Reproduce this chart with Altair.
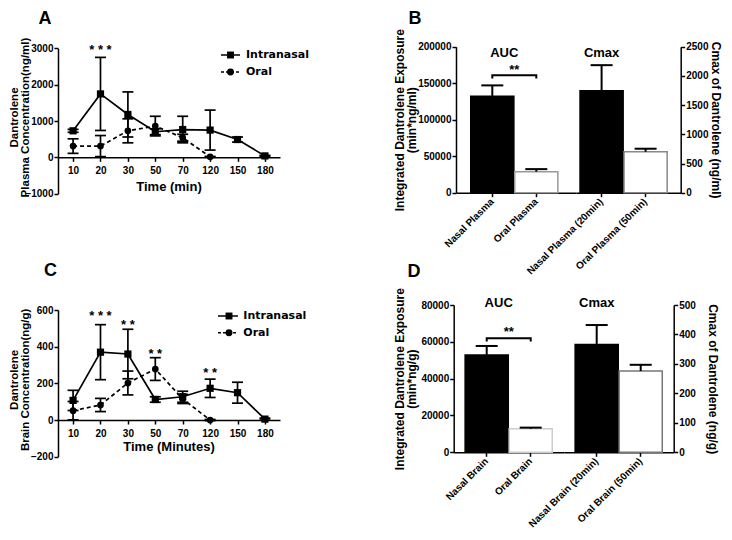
import altair as alt
import pandas as pd

FONT = "Liberation Sans"
W, H = 716, 524

# ---------------- data ----------------
times = ["10", "20", "30", "50", "70", "120", "150", "180"]
oral_times = ["10", "20", "30", "50", "70", "120"]
series = ["Intranasal", "Oral"]

# Panel A: plasma concentration (ng/ml)
a_nasal_mean = [730, 1745, 1180, 705, 765, 750, 490, 40]
a_nasal_err = [40, 1005, 620, 80, 365, 550, 70, 15]
a_oral_mean = [310, 310, 730, 860, 540, 15]
a_oral_err = [200, 290, 330, 270, 95, 10]
a_star_times = ["20"]
a_star_text = ["* * *"]
a_star_y = [3070]

# Panel C: brain concentration (ng/g)
c_nasal_mean = [107, 370, 360, 112, 127, 173, 149, 5]
c_nasal_err = [55, 150, 135, 15, 30, 50, 57, 5]
c_oral_mean = [51, 82, 202, 278, 115, 0]
c_oral_err = [50, 36, 65, 62, 25, 3]
c_star_times = ["20", "30", "50", "120"]
c_star_text = ["* * *", "* *", "* *", "* *"]
c_star_y = [591, 538, 382, 278]

# Panel B: plasma AUC / Cmax
b_auc_labels = ["Nasal Plasma", "Oral Plasma"]
b_auc_mean = [132000, 28800]
b_auc_err = [15000, 3500]
b_cmax_labels = ["Nasal Plasma (20min)", "Oral Plasma (50min)"]
b_cmax_mean = [1747, 702]
b_cmax_err = [437, 51]
b_sig = [156500, 161000, 173500]  # bracket foot, bracket top, "**"

# Panel D: brain AUC / Cmax
d_auc_labels = ["Nasal Brain", "Oral Brain"]
d_auc_mean = [52850, 12800]
d_auc_err = [4900, 600]
d_cmax_labels = ["Nasal Brain (20min)", "Oral Brain (50min)"]
d_cmax_mean = [366, 276]
d_cmax_err = [66, 21]
d_sig = [60200, 62000, 67700]


def frame(keys, mean, err, lower=True):
    df = pd.DataFrame({"k": keys, "mean": mean, "err": err})
    df["hi"] = df["mean"] + df["err"]
    df["lo"] = (df["mean"] - df["err"]) if lower else df["mean"]
    return df


def legend_layers(rows, line_x, marker_x, text_x):
    ls = alt.Scale(type="point", domain=series, range=rows, padding=0)
    ldf = pd.DataFrame({"s": series})
    is_oral = "datum.s == 'Oral'"
    base = alt.Chart(ldf)
    line = base.mark_rule(strokeWidth=1.6, color="black").encode(
        x=alt.value(line_x[0]), x2=alt.value(line_x[1]),
        y=alt.Y("s:N", scale=ls, axis=None),
        strokeDash=alt.condition(is_oral, alt.value([3, 2]), alt.value([1, 0])))
    pts = base.mark_point(filled=True, size=48, color="black", opacity=1).encode(
        x=alt.value(marker_x), y=alt.Y("s:N", scale=ls, axis=None),
        shape=alt.condition(is_oral, alt.value("circle"), alt.value("square")))
    txt = base.mark_text(align="left", baseline="middle", font="DejaVu Sans",
                         fontWeight="bold", fontSize=11).encode(
        x=alt.value(text_x), y=alt.Y("s:N", scale=ls, axis=None), text="s:N")
    return [line, pts, txt]


def time_panel(nm, ne, om, oe, st, stx, sty, ydom, yticks, yrange, ytitle,
               xtitle, xtitle_base, legend):
    xs = alt.Scale(type="point", domain=times, range=[50, 272], padding=0.55)
    ys = alt.Scale(type="linear", domain=ydom, range=yrange, nice=False, zero=False)
    zero_px = yrange[0] + (0 - ydom[0]) / (ydom[1] - ydom[0]) * (yrange[1] - yrange[0])
    xaxis = alt.Axis(orient="bottom", offset=zero_px - H, title=xtitle, titleX=160.5,
                     titleY=xtitle_base - zero_px, titleAlign="center",
                     titleBaseline="alphabetic", titleFontSize=13, labelAngle=0,
                     tickSize=4, labelPadding=4, labelFontSize=10)
    yaxis = alt.Axis(orient="left", offset=-50, values=yticks, format="d", title=ytitle,
                     titleX=-41, titleY=(yrange[0] + yrange[1]) / 2 - 4, titleAngle=270,
                     titleAlign="center", titleBaseline="alphabetic", titleFontSize=11.5,
                     titleLineHeight=11, tickSize=4, labelPadding=1, labelFontSize=10)
    dn = frame(times, nm, ne)
    do = frame(oral_times, om, oe)
    sdf = pd.DataFrame({"k": st, "t": stx, "y": sty})

    def X(axis=None):
        return alt.X("k:O", scale=xs, axis=axis)

    def Y(f, axis=None):
        return alt.Y(f, scale=ys, axis=axis)

    layers = [
        alt.Chart(dn).mark_line(color="black", strokeWidth=1.7).encode(
            x=X(xaxis), y=Y("mean:Q", yaxis)),
        alt.Chart(do).mark_line(color="black", strokeWidth=1.7, strokeDash=[4, 3]).encode(
            x=X(), y=Y("mean:Q")),
    ]
    for d in (dn, do):
        layers += [
            alt.Chart(d).mark_rule(color="black", strokeWidth=1.7).encode(
                x=X(), y=Y("lo:Q"), y2="hi:Q"),
            alt.Chart(d).mark_tick(orient="horizontal", size=11, thickness=1.7,
                                   color="black", opacity=1).encode(x=X(), y=Y("hi:Q")),
            alt.Chart(d).mark_tick(orient="horizontal", size=11, thickness=1.7,
                                   color="black", opacity=1).encode(x=X(), y=Y("lo:Q")),
        ]
    layers += [
        alt.Chart(dn).mark_point(shape="square", filled=True, size=52, color="black",
                                 opacity=1).encode(x=X(), y=Y("mean:Q")),
        alt.Chart(do).mark_point(shape="circle", filled=True, size=45, color="black",
                                 opacity=1).encode(x=X(), y=Y("mean:Q")),
        alt.Chart(sdf).mark_text(fontSize=13, baseline="middle", dy=4).encode(
            x=X(), y=Y("y:Q"), text="t:N"),
    ]
    layers += legend_layers(*legend)
    return layers


def band_scale(domain, rng, first_center, step=44.0, pi=0.02):
    L = rng[1] - rng[0]
    n = len(domain)
    po = (L / step - (n - pi)) / 2
    start = first_center - step * (1 - pi) / 2
    align = (start - rng[0]) / (L - step * (n - pi))
    return alt.Scale(type="band", domain=domain, range=rng, paddingInner=pi,
                     paddingOuter=po, align=align)


def bar_group(labels, mean, err, xs, ys, xaxis, yaxis, oral_stroke):
    d = frame(labels, mean, err, lower=False)
    nasal = "indexof(datum.k, 'Nasal') == 0"
    X = alt.X("k:N", scale=xs, axis=xaxis)
    Xn = alt.X("k:N", scale=xs, axis=None)
    return d, [
        alt.Chart(d).mark_bar(strokeWidth=1.5).encode(
            x=X, y=alt.Y("mean:Q", scale=ys, axis=yaxis),
            fill=alt.condition(nasal, alt.value("black"), alt.value("white")),
            stroke=alt.condition(nasal, alt.value("black"), alt.value(oral_stroke))),
        alt.Chart(d).mark_rule(color="black", strokeWidth=2).encode(
            x=Xn, y=alt.Y("mean:Q", scale=ys, axis=None), y2="hi:Q"),
        alt.Chart(d).mark_tick(orient="horizontal", size=22, thickness=2, color="black",
                               opacity=1).encode(
            x=Xn, y=alt.Y("hi:Q", scale=ys, axis=None)),
    ]


def bar_panel(g):
    y0, ytop = g["y0"], g["ytop"]
    ys_l = alt.Scale(type="linear", domain=g["ldom"], range=[y0, ytop], nice=False, zero=False)
    ys_r = alt.Scale(type="linear", domain=g["rdom"], range=[y0, ytop], nice=False, zero=False)
    mid = g["mid"]
    xs_a = band_scale(g["auc_labels"], [g["left"], mid], g["c0"])
    xs_c = band_scale(g["cmax_labels"], [mid, g["right"]], g["c2"])
    common_x = dict(orient="bottom", offset=y0 - H, title=None, labelAngle=315,
                    labelAlign="right", labelBaseline="middle", labelFontSize=10,
                    labelPadding=3, tickSize=4, labelOverlap=False)
    xa_axis = alt.Axis(**common_x)
    xc_axis = alt.Axis(**common_x)
    yl_axis = alt.Axis(orient="left", offset=-g["left"], values=g["lticks"], format="d",
                       title=g["ltitle"], titleX=g["ltx"], titleY=(y0 + ytop) / 2,
                       titleAngle=270, titleAlign="center", titleBaseline="alphabetic",
                       titleFontSize=12, titleLineHeight=12, tickSize=4, labelPadding=1,
                       labelFontSize=10)
    yr_axis = alt.Axis(orient="right", offset=g["right"] - W, values=g["rticks"], format="d",
                       title=g["rtitle"], titleX=g["rtx"], titleY=(y0 + ytop) / 2,
                       titleAngle=90, titleAlign="center", titleBaseline="alphabetic",
                       titleFontSize=12, tickSize=4, labelPadding=1, labelFontSize=10)
    _, la = bar_group(g["auc_labels"], g["auc_mean"], g["auc_err"], xs_a, ys_l,
                      xa_axis, yl_axis, g["stroke_a"])
    _, lc = bar_group(g["cmax_labels"], g["cmax_mean"], g["cmax_err"], xs_c, ys_r,
                      xc_axis, yr_axis, g["stroke_c"])
    sig = g["sig"]
    n0, n1 = g["auc_labels"]
    br = pd.DataFrame({"k": [n0, n0, n1, n1], "v": [sig[0], sig[1], sig[1], sig[0]],
                       "o": [0, 1, 2, 3]})
    Xa = alt.X("k:N", scale=xs_a, axis=None)
    Xc = alt.X("k:N", scale=xs_c, axis=None)
    layers = la + lc + [
        alt.Chart(br).mark_line(color="black", strokeWidth=2).encode(
            x=Xa, y=alt.Y("v:Q", scale=ys_l, axis=None), order="o:Q"),
        alt.Chart(pd.DataFrame({"k": [n0], "v": [sig[2]], "t": ["**"]})).mark_text(
            fontSize=13, baseline="middle", dx=22, dy=4).encode(
            x=Xa, y=alt.Y("v:Q", scale=ys_l, axis=None), text="t:N"),
        alt.Chart(pd.DataFrame({"k": [n0], "v": [g["auc_ty"]], "t": ["AUC"]})).mark_text(
            fontSize=13, baseline="middle", dx=12).encode(
            x=Xa, y=alt.Y("v:Q", scale=ys_l, axis=None), text="t:N"),
        alt.Chart(pd.DataFrame({"k": [g["cmax_labels"][0]], "v": [g["cmax_ty"]],
                                "t": ["Cmax"]})).mark_text(
            fontSize=13, baseline="middle").encode(
            x=Xc, y=alt.Y("v:Q", scale=ys_r, axis=None), text="t:N"),
    ]
    return layers


def letter(ch, x, y):
    return alt.Chart(pd.DataFrame({"t": [ch]})).mark_text(
        fontSize=18, baseline="top", align="center").encode(
        x=alt.value(x), y=alt.value(y), text="t:N")


layers = []
layers += time_panel(a_nasal_mean, a_nasal_err, a_oral_mean, a_oral_err,
                     a_star_times, a_star_text, a_star_y,
                     [-1000, 3000], [-1000, 0, 1000, 2000, 3000], [185.7, 40.3],
                     ["Dantrolene", "Plasma Concentration(ng/ml)"], "Time (min)", 182,
                     ([47, 64], (213, 232), 222.5, 238))
layers += time_panel(c_nasal_mean, c_nasal_err, c_oral_mean, c_oral_err,
                     c_star_times, c_star_text, c_star_y,
                     [-200, 600], [-200, 0, 200, 400, 600], [448.7, 302],
                     ["Dantrolene", "Brain Concentration(ng/g)"], "Time (Minutes)", 442,
                     ([308, 324.7], (210, 230), 221, 235.3))
layers += bar_panel(dict(
    y0=184.7, ytop=38.7, ldom=[0, 200000], rdom=[0, 2500],
    lticks=[0, 50000, 100000, 150000, 200000], rticks=[0, 500, 1000, 1500, 2000, 2500],
    left=448, right=672.7, mid=568, c0=484.3, c2=593.6,
    auc_labels=b_auc_labels, auc_mean=b_auc_mean, auc_err=b_auc_err,
    cmax_labels=b_cmax_labels, cmax_mean=b_cmax_mean, cmax_err=b_cmax_err,
    ltitle=["Integrated Dantrolene Exposure", "(min*ng/ml)"], ltx=-53,
    rtitle="Cmax of Dantrolene (ng/ml)", rtx=30.5,
    stroke_a="#999999", stroke_c="#888888", sig=b_sig, auc_ty=191000, cmax_ty=2387))
layers += bar_panel(dict(
    y0=444.3, ytop=297, ldom=[0, 80000], rdom=[0, 500],
    lticks=[0, 20000, 40000, 60000, 80000], rticks=[0, 100, 200, 300, 400, 500],
    left=445.7, right=665.7, mid=556, c0=478.7, c2=588.7,
    auc_labels=d_auc_labels, auc_mean=d_auc_mean, auc_err=d_auc_err,
    cmax_labels=d_cmax_labels, cmax_mean=d_cmax_mean, cmax_err=d_cmax_err,
    ltitle=["Integrated Dantrolene Exposure", "(min*ng/g)"], ltx=-50.7,
    rtitle="Cmax of Dantrolene (ng/g)", rtx=34.3,
    stroke_a="#cccccc", stroke_c="#777777", sig=d_sig, auc_ty=80900, cmax_ty=506))
layers += [letter("A", 37, 2), letter("B", 407, 2), letter("C", 42.5, 253.5),
           letter("D", 406, 255)]

chart = alt.layer(*layers).resolve_scale(x="independent", y="independent").properties(
    width=W, height=H, autosize=alt.AutoSizeParams(type="none"), padding=0
).configure_view(stroke=None).configure_axis(
    labelFont=FONT, labelFontWeight="bold", labelColor="black",
    titleFont=FONT, titleFontWeight="bold", titleColor="black",
    domainColor="black", tickColor="black", domainWidth=1.5, tickWidth=1.5, grid=False
).configure_text(font=FONT, fontWeight="bold", color="black")

chart.save("out.html", embed_options={"renderer": "svg", "actions": False})
